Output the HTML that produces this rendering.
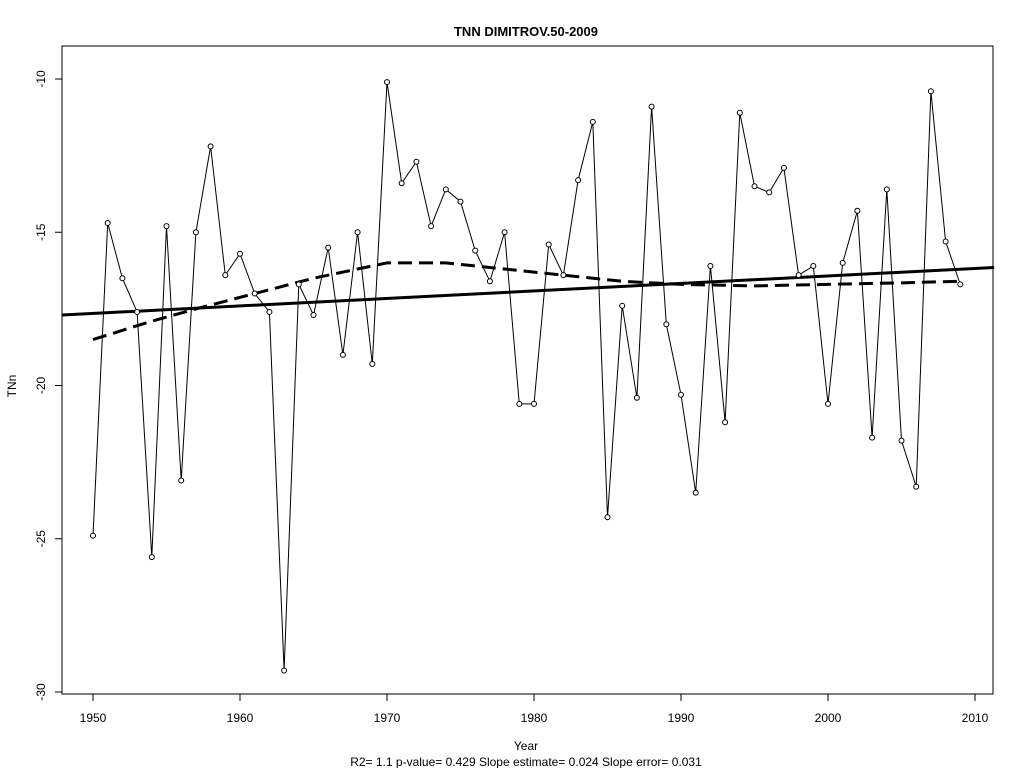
<!DOCTYPE html>
<html><head><meta charset="utf-8"><style>
body{margin:0;background:#fff;}
svg{display:block;font-family:"Liberation Sans",Arial,sans-serif;}
</style></head><body>
<svg id="chart" width="1024" height="768" viewBox="0 0 1024 768">
<rect x="0" y="0" width="1024" height="768" fill="#fff"/>
<text x="526" y="36" font-size="13" font-weight="bold" text-anchor="middle">TNN   DIMITROV.50-2009</text>
<rect x="62" y="46" width="931" height="648" fill="none" stroke="#000" stroke-width="1"/>
<g id="xaxis"></g>
<g id="yaxis"></g>
<text transform="translate(16,386) rotate(-90)" font-size="12" text-anchor="middle">TNn</text>
<text x="526" y="750" font-size="12" text-anchor="middle">Year</text>
<text x="526" y="766" font-size="12" text-anchor="middle">R2= 1.1  p-value= 0.429  Slope estimate= 0.024  Slope error= 0.031</text>
<g id="marks"></g>
</svg>
<script>
const years=[];for(let y=1950;y<=2009;y++)years.push(y);
const values=[-24.9,-14.7,-16.5,-17.6,-25.6,-14.8,-23.1,-15.0,-12.2,-16.4,-15.7,-17.0,-17.6,-29.3,-16.7,-17.7,-15.5,-19.0,-15.0,-19.3,-10.1,-13.4,-12.7,-14.8,-13.6,-14.0,-15.6,-16.6,-15.0,-20.6,-20.6,-15.4,-16.4,-13.3,-11.4,-24.3,-17.4,-20.4,-10.9,-18.0,-20.3,-23.5,-16.1,-21.2,-11.1,-13.5,-13.7,-12.9,-16.4,-16.1,-20.6,-16.0,-14.3,-21.7,-13.6,-21.8,-23.3,-10.4,-15.3,-16.7];
const smoothYears=[1950,1954,1957,1961,1965,1968,1970,1974,1978,1982,1986,1990,1995,2000,2005,2009];
const smoothValues=[-18.5,-17.9,-17.5,-17.0,-16.5,-16.2,-16.0,-16.0,-16.2,-16.4,-16.6,-16.7,-16.75,-16.7,-16.65,-16.6];
const trendStart=[1947.9,-17.7];
const trendEnd=[2011.3,-16.15];
const xTicks=[1950,1960,1970,1980,1990,2000,2010];
const yTicks=[-10,-15,-20,-25,-30];
const X=v=>93+(v-1950)*(975-93)/60;
const Y=v=>79+(-10-v)*30.65;
const NS="http://www.w3.org/2000/svg";
function mk(tag,attrs,parent){const e=document.createElementNS(NS,tag);for(const k in attrs)e.setAttribute(k,attrs[k]);parent.appendChild(e);return e;}
const xa=document.getElementById('xaxis'),ya=document.getElementById('yaxis'),m=document.getElementById('marks');
mk('line',{x1:X(1950),x2:X(2010),y1:694,y2:694,stroke:'#000'},xa);
xTicks.forEach(t=>{
 const l=mk('line',{x1:X(t),x2:X(t),y1:694,y2:701,stroke:'#000'},xa);
 
 
 const tx=mk('text',{x:X(t),y:722,'font-size':12,'text-anchor':'middle'},xa);tx.textContent=t;
 
 
});
yTicks.forEach(t=>{
 const l=mk('line',{x1:55,x2:62,y1:Y(t),y2:Y(t),stroke:'#000'},ya);
 
 
 const tx=mk('text',{transform:`translate(45,${Y(t)}) rotate(-90)`,'font-size':12,'text-anchor':'middle'},ya);tx.textContent=t;
 
 
});
const pl=mk('polyline',{points:years.map((y,i)=>X(y)+','+Y(values[i])).join(' '),fill:'none',stroke:'#000','stroke-width':1},m);


const tr=mk('line',{x1:X(trendStart[0]),y1:Y(trendStart[1]),x2:X(trendEnd[0]),y2:Y(trendEnd[1]),stroke:'#000','stroke-width':3},m);


const sm=mk('polyline',{points:smoothYears.map((y,i)=>X(y)+','+Y(smoothValues[i])).join(' '),fill:'none',stroke:'#000','stroke-width':3,'stroke-dasharray':'14,7'},m);


years.forEach((y,i)=>{
 const c=mk('circle',{cx:X(y),cy:Y(values[i]),r:2.5,fill:'#fff',stroke:'#000','stroke-width':1},m);
 
 
});
</script>
</body></html>
